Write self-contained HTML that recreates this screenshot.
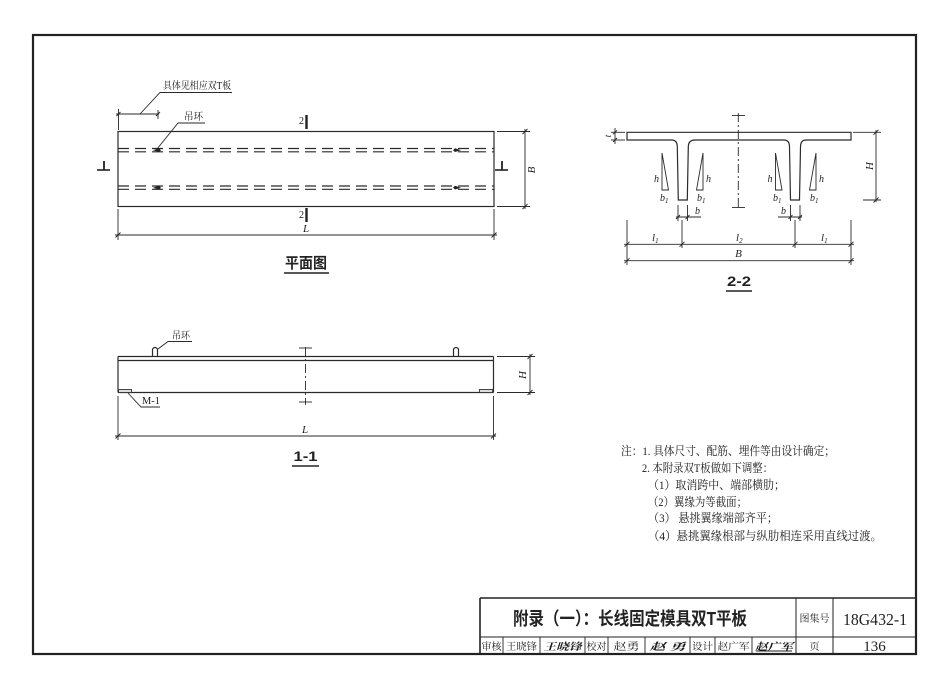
<!DOCTYPE html>
<html><head><meta charset="utf-8"><style>
html,body{margin:0;padding:0;background:#fff;}
svg{display:block;}
.l{stroke:#2a2a2a;stroke-width:1.2;fill:none;}
.t{stroke:#2a2a2a;stroke-width:0.9;fill:none;}
.cn{font-family:"Liberation Serif","Noto Serif CJK SC",serif;fill:#1a1a1a;}
.it{font-family:"Liberation Serif",serif;font-style:italic;fill:#222;}
.hd{font-family:"Liberation Sans","Noto Sans CJK SC",sans-serif;font-weight:bold;fill:#222;}
</style></head><body>
<svg width="950" height="691" viewBox="0 0 950 691" xmlns="http://www.w3.org/2000/svg">
<rect width="950" height="691" fill="#fff"/>
<rect x="33" y="35" width="883" height="619" fill="none" stroke="#222" stroke-width="2.2"/>

<!-- PLAN VIEW -->
<rect x="118" y="131.5" width="376" height="75" class="l" stroke-width="1.4"/>
<g class="l" stroke-dasharray="11 6">
<line x1="118" y1="148.5" x2="494" y2="148.5"/>
<line x1="118" y1="151.8" x2="494" y2="151.8"/>
<line x1="118" y1="186" x2="494" y2="186"/>
<line x1="118" y1="189.3" x2="494" y2="189.3"/>
</g>
<g fill="#222">
<path d="M153,150.2 L159,148.3 L161,150.2 L159,152 Z"/>
<path d="M153,187.7 L159,185.8 L161,187.7 L159,189.5 Z"/>
<path d="M461,150.2 L455,148.3 L453,150.2 L455,152 Z"/>
<path d="M461,187.7 L455,185.8 L453,187.7 L455,189.5 Z"/>
</g>
<polyline points="157,149 178,123 205,123" class="t"/>
<text x="184" y="120" class="cn" font-size="10" textLength="19" lengthAdjust="spacingAndGlyphs">吊环</text>
<polyline points="140,114 160,92.5 232,92.5" class="t"/>
<text x="163" y="89" class="cn" font-size="10" textLength="68" lengthAdjust="spacingAndGlyphs">具体见相应双T板</text>
<g class="t">
<line x1="116" y1="114" x2="159" y2="114"/>
<line x1="118.5" y1="109" x2="118.5" y2="130"/>
<line x1="158" y1="110" x2="158" y2="119"/>
<line x1="116.5" y1="116" x2="120.5" y2="112"/>
<line x1="156" y1="116" x2="160" y2="112"/>
</g>
<line x1="306.5" y1="115" x2="306.5" y2="129" stroke="#222" stroke-width="2.4"/>
<text x="304" y="124" class="cn" font-size="10" text-anchor="end">2</text>
<line x1="306.5" y1="208" x2="306.5" y2="222" stroke="#222" stroke-width="2.4"/>
<text x="304" y="218" class="cn" font-size="10" text-anchor="end">2</text>
<line x1="104" y1="161" x2="104" y2="170" stroke="#222" stroke-width="1.8"/>
<line x1="97" y1="170" x2="110" y2="170" stroke="#222" stroke-width="1.6"/>
<line x1="502" y1="161" x2="502" y2="170" stroke="#222" stroke-width="1.8"/>
<line x1="495" y1="170" x2="508" y2="170" stroke="#222" stroke-width="1.6"/>
<g class="t">
<line x1="497" y1="131.5" x2="530" y2="131.5"/>
<line x1="497" y1="206.5" x2="530" y2="206.5"/>
<line x1="525" y1="129" x2="525" y2="209"/>
<line x1="522.5" y1="134" x2="527.5" y2="129"/>
<line x1="522.5" y1="209" x2="527.5" y2="204"/>
</g>
<text x="0" y="0" class="it" font-size="11" transform="translate(535,170) rotate(-90)" text-anchor="middle">B</text>
<g class="t">
<line x1="118" y1="209" x2="118" y2="240"/>
<line x1="494" y1="209" x2="494" y2="240"/>
<line x1="115" y1="235" x2="497" y2="235"/>
<line x1="115.5" y1="237.5" x2="120.5" y2="232.5"/>
<line x1="491.5" y1="237.5" x2="496.5" y2="232.5"/>
</g>
<text x="306" y="232" class="it" font-size="11" text-anchor="middle">L</text>
<text x="306" y="268" class="hd" font-size="15" text-anchor="middle" textLength="42" lengthAdjust="spacingAndGlyphs">平面图</text>
<line x1="284" y1="273" x2="329" y2="273" stroke="#222" stroke-width="1.6"/>

<!-- 1-1 -->
<g class="l" stroke-width="1.4">
<line x1="118" y1="356.5" x2="493.5" y2="356.5"/>
<line x1="118" y1="360.5" x2="493.5" y2="360.5"/>
<line x1="118" y1="392.5" x2="493.5" y2="392.5"/>
<line x1="118" y1="356.5" x2="118" y2="392.5"/>
<line x1="493.5" y1="356.5" x2="493.5" y2="392.5"/>
</g>
<path d="M152.5,356.5 V350 a2.5,2.5 0 0 1 5,0 V356.5" class="l" stroke-width="1.3"/>
<path d="M453.5,356.5 V350 a2.5,2.5 0 0 1 5,0 V356.5" class="l" stroke-width="1.3"/>
<polyline points="158,349 168,341.5 192,341.5" class="t"/>
<text x="172" y="339" class="cn" font-size="10" textLength="18" lengthAdjust="spacingAndGlyphs">吊环</text>
<line x1="305.5" y1="347" x2="305.5" y2="405" class="t" stroke-dasharray="9 3 2 3"/>
<line x1="299" y1="348" x2="312" y2="348" class="t"/>
<line x1="299" y1="402" x2="312" y2="402" class="t"/>
<rect x="118.5" y="389.5" width="13" height="3" fill="#ddd" stroke="#333" stroke-width="0.9"/>
<rect x="479.5" y="389.5" width="13" height="3" fill="#ddd" stroke="#333" stroke-width="0.9"/>
<polyline points="128,393 141,407 160,407" class="t"/>
<text x="142" y="404" class="cn" font-size="10" textLength="18" lengthAdjust="spacingAndGlyphs">M-1</text>
<g class="t">
<line x1="497" y1="356.5" x2="535" y2="356.5"/>
<line x1="497" y1="392.5" x2="535" y2="392.5"/>
<line x1="530" y1="354" x2="530" y2="395"/>
<line x1="527.5" y1="359" x2="532.5" y2="354"/>
<line x1="527.5" y1="395" x2="532.5" y2="390"/>
</g>
<text x="0" y="0" class="it" font-size="11" transform="translate(526,375) rotate(-90)" text-anchor="middle">H</text>
<g class="t">
<line x1="118" y1="396" x2="118" y2="440"/>
<line x1="493.5" y1="396" x2="493.5" y2="440"/>
<line x1="115" y1="436" x2="496" y2="436"/>
<line x1="115.5" y1="438.5" x2="120.5" y2="433.5"/>
<line x1="491" y1="438.5" x2="496" y2="433.5"/>
</g>
<text x="305" y="433" class="it" font-size="11" text-anchor="middle">L</text>
<text x="305.5" y="461" class="hd" font-size="14" text-anchor="middle" textLength="24" lengthAdjust="spacingAndGlyphs">1-1</text>
<line x1="292" y1="466" x2="319" y2="466" stroke="#222" stroke-width="1.6"/>

<!-- 2-2 -->
<path d="M627,132.3 H851 V140 H806 Q800.5,140 800.5,147 L799.5,200 H790.5 L789.5,147 Q789.5,140 784,140 H695 Q688.3,140 688.3,147 L687.3,200 H678.3 L677.3,147 Q677.3,140 671.7,140 H627 Z" class="l" stroke-width="1.5"/>
<line x1="738.3" y1="113" x2="738.3" y2="210" class="t" stroke-dasharray="9 3 2 3"/>
<line x1="732" y1="115.5" x2="745" y2="115.5" class="t"/>
<line x1="732" y1="207.5" x2="745" y2="207.5" class="t"/>
<g class="t">
<polygon points="662,153 662,190 668.5,190"/>
<polygon points="703,153 703,190 696.5,190"/>
<polygon points="775.5,153 775.5,190 782,190"/>
<polygon points="816,153 816,190 809.5,190"/>
</g>
<g class="it" font-size="10">
<text x="659" y="182" text-anchor="end">h</text>
<text x="706" y="182">h</text>
<text x="772.5" y="182" text-anchor="end">h</text>
<text x="819" y="182">h</text>
<text x="660" y="201">b<tspan font-size="7" dy="2">1</tspan></text>
<text x="697" y="201">b<tspan font-size="7" dy="2">1</tspan></text>
<text x="773" y="201">b<tspan font-size="7" dy="2">1</tspan></text>
<text x="810" y="201">b<tspan font-size="7" dy="2">1</tspan></text>
</g>
<g class="t">
<line x1="611" y1="132.3" x2="625" y2="132.3"/>
<line x1="611" y1="140" x2="625" y2="140"/>
<line x1="615" y1="128" x2="615" y2="144"/>
<line x1="613" y1="134.3" x2="617" y2="130.3"/>
<line x1="613" y1="142" x2="617" y2="138"/>
</g>
<text x="0" y="0" class="it" font-size="9" transform="translate(611,136) rotate(-90)" text-anchor="middle">t</text>
<g class="t">
<line x1="853" y1="132.3" x2="881" y2="132.3"/>
<line x1="863" y1="200" x2="881" y2="200"/>
<line x1="876" y1="130" x2="876" y2="202"/>
<line x1="873.5" y1="134.8" x2="878.5" y2="129.8"/>
<line x1="873.5" y1="202.5" x2="878.5" y2="197.5"/>
</g>
<text x="0" y="0" class="it" font-size="11" transform="translate(873,166) rotate(-90)" text-anchor="middle">H</text>
<g class="t">
<line x1="678" y1="205" x2="678" y2="221"/>
<line x1="687.5" y1="205" x2="687.5" y2="221"/>
<line x1="676" y1="217" x2="701" y2="217"/>
<line x1="676" y1="219" x2="680" y2="215"/>
<line x1="685.5" y1="219" x2="689.5" y2="215"/>
<line x1="790.5" y1="205" x2="790.5" y2="221"/>
<line x1="800" y1="205" x2="800" y2="221"/>
<line x1="778" y1="217" x2="802" y2="217"/>
<line x1="788.5" y1="219" x2="792.5" y2="215"/>
<line x1="798" y1="219" x2="802" y2="215"/>
</g>
<text x="695" y="214" class="it" font-size="10">b</text>
<text x="781" y="214" class="it" font-size="10">b</text>
<g class="t">
<line x1="627" y1="220" x2="627" y2="265"/>
<line x1="851" y1="220" x2="851" y2="265"/>
<line x1="682" y1="220" x2="682" y2="248"/>
<line x1="795" y1="220" x2="795" y2="248"/>
<line x1="624" y1="244.3" x2="854" y2="244.3"/>
<line x1="624" y1="260.7" x2="854" y2="260.7"/>
<line x1="624.5" y1="246.8" x2="629.5" y2="241.8"/>
<line x1="679.5" y1="246.8" x2="684.5" y2="241.8"/>
<line x1="792.5" y1="246.8" x2="797.5" y2="241.8"/>
<line x1="848.5" y1="246.8" x2="853.5" y2="241.8"/>
<line x1="624.5" y1="263.2" x2="629.5" y2="258.2"/>
<line x1="848.5" y1="263.2" x2="853.5" y2="258.2"/>
</g>
<g class="it" font-size="11">
<text x="652" y="241">l<tspan font-size="7" dy="2">1</tspan></text>
<text x="736" y="241">l<tspan font-size="7" dy="2">2</tspan></text>
<text x="821" y="241">l<tspan font-size="7" dy="2">1</tspan></text>
<text x="738.5" y="257" text-anchor="middle">B</text>
</g>
<text x="739" y="286" class="hd" font-size="14" text-anchor="middle" textLength="24" lengthAdjust="spacingAndGlyphs">2-2</text>
<line x1="726" y1="291" x2="752" y2="291" stroke="#222" stroke-width="1.6"/>

<!-- NOTES -->
<g class="cn" font-size="12">
<text x="621" y="455" textLength="214" lengthAdjust="spacingAndGlyphs">注：1. 具体尺寸、配筋、埋件等由设计确定；</text>
<text x="642" y="472" textLength="131" lengthAdjust="spacingAndGlyphs">2. 本附录双T板做如下调整：</text>
<text x="648" y="489" textLength="137" lengthAdjust="spacingAndGlyphs">（1）取消跨中、端部横肋；</text>
<text x="648" y="506" textLength="99" lengthAdjust="spacingAndGlyphs">（2）翼缘为等截面；</text>
<text x="648" y="522" textLength="130" lengthAdjust="spacingAndGlyphs">（3） 悬挑翼缘端部齐平；</text>
<text x="648" y="540" textLength="234" lengthAdjust="spacingAndGlyphs">（4）悬挑翼缘根部与纵肋相连采用直线过渡。</text>
</g>

<!-- TITLE BLOCK -->
<g stroke="#222" fill="none">
<line x1="480" y1="598" x2="916" y2="598" stroke-width="1.6"/>
<line x1="480" y1="598" x2="480" y2="654" stroke-width="1.6"/>
<line x1="480" y1="637" x2="916" y2="637" stroke-width="1"/>
<line x1="796" y1="598" x2="796" y2="654" stroke-width="1"/>
<line x1="833" y1="598" x2="833" y2="654" stroke-width="1"/>
<g stroke-width="0.9">
<line x1="503" y1="637" x2="503" y2="654"/>
<line x1="540" y1="637" x2="540" y2="654"/>
<line x1="585" y1="637" x2="585" y2="654"/>
<line x1="608" y1="637" x2="608" y2="654"/>
<line x1="645" y1="637" x2="645" y2="654"/>
<line x1="690" y1="637" x2="690" y2="654"/>
<line x1="715" y1="637" x2="715" y2="654"/>
<line x1="752" y1="637" x2="752" y2="654"/>
</g>
</g>
<text x="513" y="625" class="hd" font-size="18" textLength="234" lengthAdjust="spacingAndGlyphs">附录（一）：长线固定模具双T平板</text>
<text x="814.5" y="622" class="cn" font-size="10" text-anchor="middle" textLength="30" lengthAdjust="spacingAndGlyphs">图集号</text>
<text x="875" y="625" font-family="Liberation Serif,serif" font-size="17" fill="#222" text-anchor="middle" textLength="64" lengthAdjust="spacingAndGlyphs">18G432-1</text>
<g class="cn" font-size="10">
<text x="491.5" y="650" text-anchor="middle" textLength="20" lengthAdjust="spacingAndGlyphs">审核</text>
<text x="521.5" y="650" text-anchor="middle" textLength="31" lengthAdjust="spacingAndGlyphs">王晓锋</text>
<text x="562.5" y="650" text-anchor="middle" font-weight="bold" font-style="italic" textLength="38" lengthAdjust="spacingAndGlyphs">王晓锋</text>
<text x="596.5" y="650" text-anchor="middle" textLength="20" lengthAdjust="spacingAndGlyphs">校对</text>
<text x="626.5" y="650" text-anchor="middle" textLength="26" lengthAdjust="spacingAndGlyphs">赵勇</text>
<text x="667.5" y="650" text-anchor="middle" font-weight="bold" font-style="italic" textLength="36" lengthAdjust="spacingAndGlyphs">赵 勇</text>
<text x="702.5" y="650" text-anchor="middle" textLength="21" lengthAdjust="spacingAndGlyphs">设计</text>
<text x="733.5" y="650" text-anchor="middle" textLength="32" lengthAdjust="spacingAndGlyphs">赵广军</text>
<text x="774" y="650" text-anchor="middle" font-weight="bold" font-style="italic" textLength="38" lengthAdjust="spacingAndGlyphs">赵广军</text>
<text x="814.5" y="650" text-anchor="middle">页</text>
</g>
<line x1="756" y1="651" x2="792" y2="651" stroke="#222" stroke-width="0.9"/>
<text x="874.5" y="651" font-family="Liberation Serif,serif" font-size="15" fill="#222" text-anchor="middle">136</text>
</svg>
</body></html>
